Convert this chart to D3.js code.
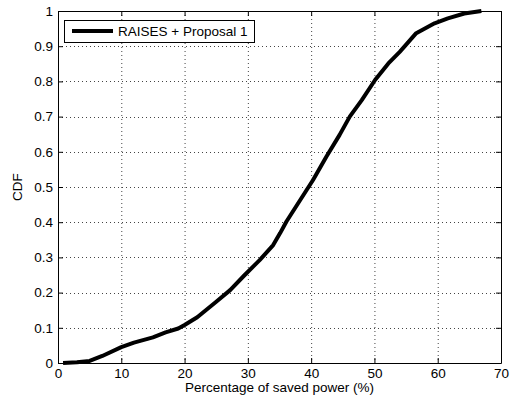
<!DOCTYPE html>
<html>
<head>
<meta charset="utf-8">
<script src="https://cdn.jsdelivr.net/npm/d3@7"></script>
<style>
  body { margin: 0; background: #fff; }
  svg { display: block; font-family: "Liberation Sans", Arial, sans-serif; }
  .axis path, .axis line { stroke: #000; }
  .axis text { font-size: 13.5px; fill: #000; }
  .grid line { stroke: #444; stroke-width: 1; stroke-dasharray: 1,3; }
</style>
</head>
<body>
<div id="chart"></div>
<script>
"use strict";

// CDF of saved power
let savedPower = [0.8, 3, 5, 7, 10, 12, 15, 17, 19, 20, 22, 25, 27.2, 29.5, 31.9, 34.0, 35.1, 36.1, 38.2, 40.3, 42.4, 44.5, 46.1, 48.0, 50.1, 52.2, 54.0, 54.8, 56.6, 59.5, 61.6, 64.2, 66.9];
let cdfValues = [0, 0.002, 0.006, 0.02, 0.045, 0.058, 0.073, 0.087, 0.098, 0.108, 0.13, 0.174, 0.207, 0.25, 0.293, 0.335, 0.369, 0.402, 0.461, 0.52, 0.586, 0.648, 0.7, 0.747, 0.804, 0.851, 0.884, 0.9, 0.937, 0.965, 0.979, 0.993, 1.0];

let xTicks = [0, 10, 20, 30, 40, 50, 60, 70];
let yTicks = [0, 0.1, 0.2, 0.3, 0.4, 0.5, 0.6, 0.7, 0.8, 0.9, 1];
let seriesName = "RAISES + Proposal 1";

let width = 517;
let height = 401;
let margin = { top: 11, right: 16, bottom: 38, left: 58 };

let svg = d3.select("#chart")
  .append("svg")
  .attr("width", width)
  .attr("height", height);

let xScale = d3.scaleLinear()
  .domain([0, 70])
  .range([margin.left, width - margin.right]);

let yScale = d3.scaleLinear()
  .domain([0, 1])
  .range([height - margin.bottom, margin.top]);

function fmtY(d) {
  return d === 0 || d === 1 ? String(d) : d3.format(".1f")(d);
}

// dotted grid
let grid = svg.append("g").attr("class", "grid");
grid.selectAll(".vgrid")
  .data(xTicks.slice(1, -1))
  .enter().append("line")
  .attr("x1", d => xScale(d) + 0.5)
  .attr("x2", d => xScale(d) + 0.5)
  .attr("y1", yScale(1))
  .attr("y2", yScale(0));
grid.selectAll(".hgrid")
  .data(yTicks.slice(1, -1))
  .enter().append("line")
  .attr("x1", xScale(0))
  .attr("x2", xScale(70))
  .attr("y1", d => Math.round(yScale(d)) + 0.5)
  .attr("y2", d => Math.round(yScale(d)) + 0.5);

// axes, ticks pointing inward on all four sides
svg.append("g")
  .attr("class", "axis")
  .attr("transform", "translate(0," + yScale(0) + ")")
  .call(d3.axisBottom(xScale).tickValues(xTicks).tickSizeInner(-5).tickSizeOuter(0).tickPadding(5));

svg.append("g")
  .attr("class", "axis")
  .attr("transform", "translate(0," + yScale(1) + ")")
  .call(d3.axisTop(xScale).tickValues(xTicks).tickSizeInner(-5).tickSizeOuter(0).tickFormat(""));

svg.append("g")
  .attr("class", "axis")
  .attr("transform", "translate(" + xScale(0) + ",0)")
  .call(d3.axisLeft(yScale).tickValues(yTicks).tickFormat(fmtY).tickSizeInner(-5).tickSizeOuter(0).tickPadding(5));

svg.append("g")
  .attr("class", "axis")
  .attr("transform", "translate(" + xScale(70) + ",0)")
  .call(d3.axisRight(yScale).tickValues(yTicks).tickSizeInner(-5).tickSizeOuter(0).tickFormat(""));

// the curve
let line = d3.line()
  .x((d, i) => xScale(d))
  .y((d, i) => yScale(cdfValues[i]));

svg.append("path")
  .datum(savedPower)
  .attr("d", line)
  .attr("fill", "none")
  .attr("stroke", "#000")
  .attr("stroke-width", 4)
  .attr("stroke-linejoin", "round");

// axis titles
svg.append("text")
  .attr("x", (xScale(0) + xScale(70)) / 2)
  .attr("y", 392)
  .attr("text-anchor", "middle")
  .style("font-size", "13.5px")
  .text("Percentage of saved power (%)");

svg.append("text")
  .attr("transform", "translate(21.5," + (yScale(0.5)) + ") rotate(-90)")
  .attr("text-anchor", "middle")
  .style("font-size", "13.5px")
  .text("CDF");

// legend
let legend = svg.append("g").attr("class", "legend");
legend.append("rect")
  .attr("x", 64.5)
  .attr("y", 20.5)
  .attr("width", 190)
  .attr("height", 22)
  .attr("fill", "#fff")
  .attr("stroke", "#000");
legend.append("line")
  .attr("x1", 72)
  .attr("x2", 113)
  .attr("y1", 31)
  .attr("y2", 31)
  .attr("stroke", "#000")
  .attr("stroke-width", 4);
legend.append("text")
  .attr("x", 118)
  .attr("y", 36)
  .style("font-size", "13.5px")
  .text(seriesName);
</script>
</body>
</html>
